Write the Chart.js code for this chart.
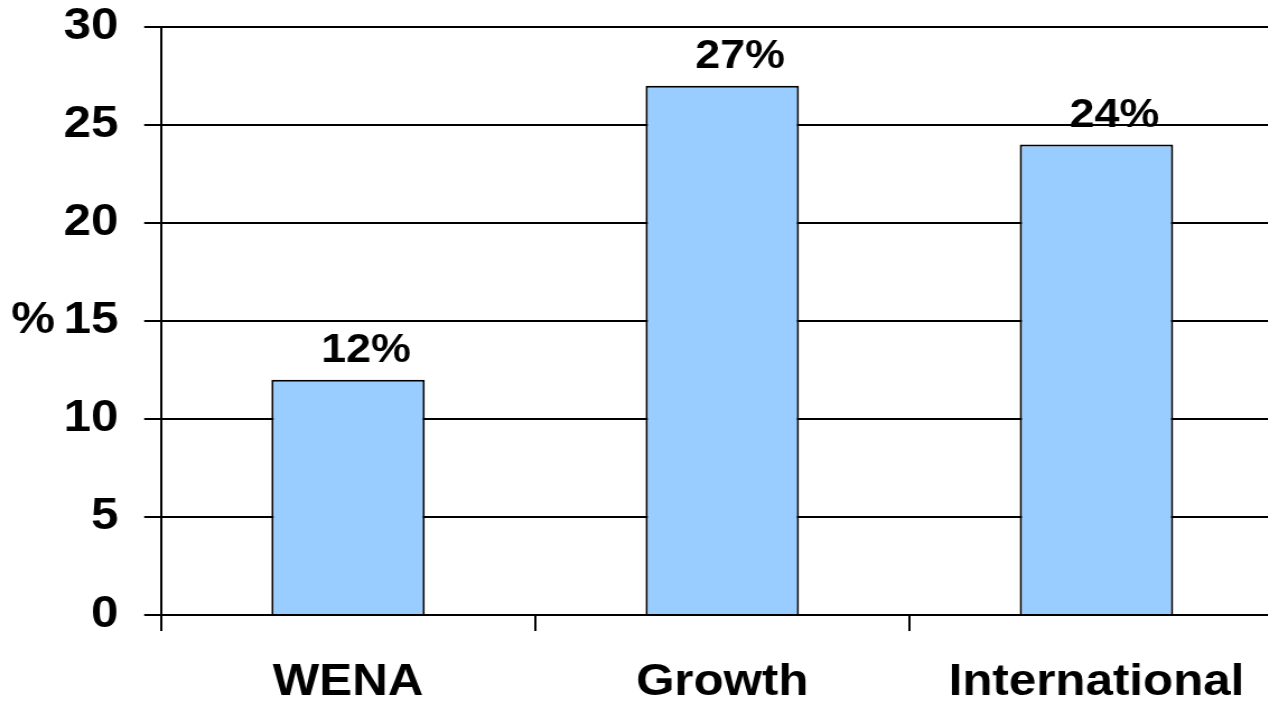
<!DOCTYPE html>
<html>
<head>
<meta charset="utf-8">
<script src="https://cdn.jsdelivr.net/npm/chart.js@4"></script>
<style>
  html, body { margin: 0; padding: 0; background: #fff; overflow: hidden; }
  #wrap { width: 1150px; height: 702px; transform: scaleX(1.12); transform-origin: 0 0; }
</style>
</head>
<body>
<div id="wrap"><canvas id="chart" width="1150" height="702"></canvas></div>
<script>
const categories = ['WENA', 'Growth', 'International'];
const values = [12, 27, 24];
const yTicks = [0, 5, 10, 15, 20, 25, 30];

const FONT = '"Liberation Sans", Arial, sans-serif';

// value labels above the bars
const barLabels = {
  id: 'barLabels',
  afterDatasetsDraw(chart) {
    const ctx = chart.ctx;
    const meta = chart.getDatasetMeta(0);
    ctx.save();
    ctx.font = 'bold 40px ' + FONT;
    ctx.fillStyle = '#000';
    ctx.textAlign = 'center';
    ctx.textBaseline = 'alphabetic';
    meta.data.forEach((bar, i) => {
      ctx.fillText(values[i] + '%', bar.x + 16, bar.y - 18);
    });
    ctx.restore();
  }
};

// the "%" axis title, upright, left of the ticks
const yTitle = {
  id: 'yTitle',
  afterDraw(chart) {
    const ctx = chart.ctx;
    const area = chart.chartArea;
    ctx.save();
    ctx.font = 'bold 44px ' + FONT;
    ctx.fillStyle = '#000';
    ctx.textAlign = 'left';
    ctx.textBaseline = 'middle';
    ctx.fillText('%', 10, (area.top + area.bottom) / 2);
    ctx.restore();
  }
};

new Chart(document.getElementById('chart'), {
  type: 'bar',
  data: {
    labels: categories,
    datasets: [{
      data: values,
      backgroundColor: '#99CCFF',
      borderColor: '#000',
      borderWidth: 2,
      barPercentage: 0.41,
      categoryPercentage: 1
    }]
  },
  options: {
    responsive: false,
    animation: false,
    layout: { padding: { top: 27, right: 4, left: 0, bottom: 0 } },
    plugins: {
      legend: { display: false },
      tooltip: { enabled: false }
    },
    scales: {
      x: {
        afterFit(scale) {
          scale.height = 87;
          scale.paddingLeft = 0;
          scale.paddingRight = 0;
        },
        grid: {
          drawOnChartArea: false,
          drawTicks: true,
          tickLength: 16,
          tickColor: '#000',
          lineWidth: 2
        },
        border: { display: true, color: '#000', width: 2 },
        ticks: {
          color: '#000',
          padding: 25,
          font: { family: FONT, size: 44, weight: 'bold' }
        }
      },
      y: {
        min: 0,
        max: 30,
        afterFit(scale) {
          scale.width = 143.75;
          scale.paddingTop = 0;
          scale.paddingBottom = 0;
        },
        afterBuildTicks(scale) { scale.ticks = yTicks.map(v => ({ value: v })); },
        grid: {
          color: '#000',
          lineWidth: 2,
          drawTicks: true,
          tickLength: 15,
          tickColor: '#000'
        },
        border: { display: true, color: '#000', width: 2 },
        ticks: {
          color: '#000',
          padding: 23,
          font: { family: FONT, size: 44, weight: 'bold' }
        }
      }
    }
  },
  plugins: [barLabels, yTitle]
});
</script>
</body>
</html>
